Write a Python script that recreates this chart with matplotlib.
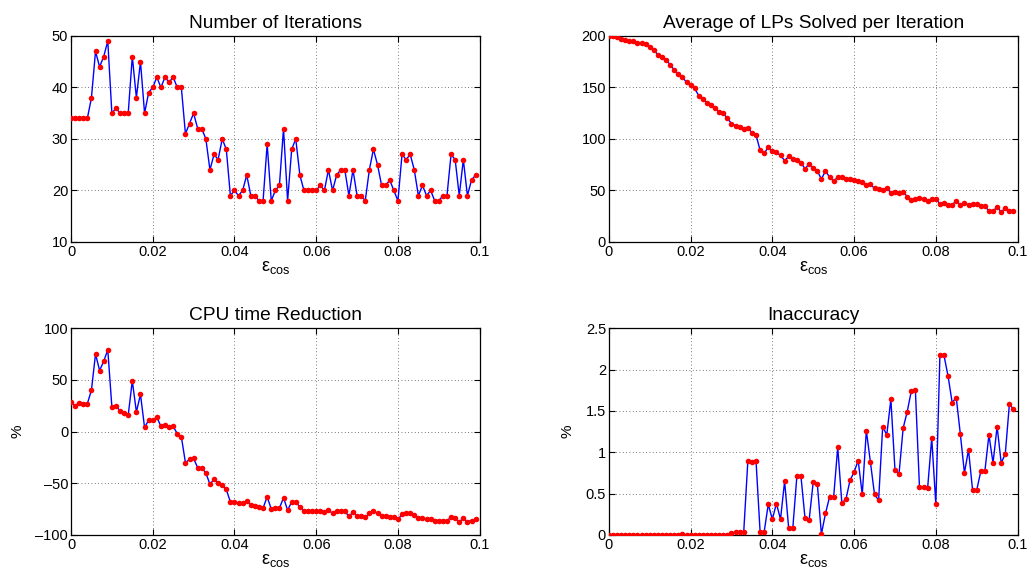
import numpy as np
import matplotlib
matplotlib.use('Agg')
import matplotlib.pyplot as plt

plt.rcParams['font.family'] = ['Liberation Sans', 'DejaVu Sans']
plt.rcParams['mathtext.fontset'] = 'custom'
plt.rcParams['mathtext.rm'] = 'Liberation Sans'
plt.rcParams['mathtext.it'] = 'Liberation Sans'

# epsilon_cos values, step 0.001
eps_cos = np.arange(100) * 0.001

iterations = [34, 34, 34, 34, 34, 38, 47, 44, 46, 49,
              35, 36, 35, 35, 35, 46, 38, 45, 35, 39,
              40, 42, 40, 42, 41, 42, 40, 40, 31, 33,
              35, 32, 32, 30, 24, 27, 26, 30, 28, 19,
              20, 19, 20, 23, 19, 19, 18, 18, 29, 18,
              20, 21, 32, 18, 28, 30, 23, 20, 20, 20,
              20, 21, 20, 24, 20, 23, 24, 24, 19, 24,
              19, 19, 18, 24, 28, 25, 21, 21, 22, 20,
              18, 27, 26, 27, 24, 19, 21, 19, 20, 18,
              18, 19, 19, 27, 26, 19, 26, 19, 22, 23]

avg_lps = [200, 200, 199, 197, 196, 195, 195, 193, 193, 192,
           189, 186, 182, 180, 177, 172, 167, 163, 160, 155,
           152, 149, 142, 139, 135, 133, 130, 126, 125, 120,
           115, 113, 112, 110, 111, 106, 104, 89, 86, 92,
           88, 87, 84, 79, 83, 81, 80, 77, 71, 76,
           72, 69, 61, 69, 63, 59, 63, 63, 61, 61,
           60, 59, 58, 55, 56, 52, 51, 50, 52, 48,
           49, 48, 49, 44, 41, 42, 43, 42, 40, 42,
           42, 37, 38, 36, 36, 40, 36, 38, 36, 37,
           37, 35, 35, 30, 30, 34, 29, 33, 30, 30]

cpu_reduction = [29, 25, 28, 27, 27, 40, 75, 59, 68, 79,
                 24, 25, 20, 18, 16, 49, 19, 36, 4, 11,
                 11, 14, 5, 6, 4, 5, -2, -5, -30, -27,
                 -26, -35, -35, -40, -51, -46, -50, -52, -56, -68,
                 -68, -69, -69, -67, -71, -72, -73, -74, -63, -75,
                 -74, -74, -64, -76, -68, -68, -73, -77, -77, -77,
                 -77, -77, -78, -76, -79, -77, -77, -77, -82, -78,
                 -82, -82, -83, -79, -77, -79, -82, -82, -83, -83,
                 -85, -80, -79, -79, -81, -84, -84, -85, -85, -86,
                 -86, -86, -86, -83, -84, -87, -84, -87, -86, -85]

inaccuracy = [0, 0, 0, 0, 0, 0, 0, 0, 0, 0,
              0, 0, 0, 0, 0, 0, 0, 0, 0.01, 0,
              0, 0, 0, 0, 0, 0, 0, 0, 0, 0,
              0.02, 0.04, 0.04, 0.04, 0.89, 0.88, 0.90, 0.04, 0.04, 0.37,
              0.19, 0.38, 0.19, 0.65, 0.08, 0.08, 0.71, 0.71, 0.20, 0.18,
              0.64, 0.62, 0.01, 0.26, 0.46, 0.46, 1.06, 0.39, 0.43, 0.66,
              0.76, 0.90, 0.49, 1.26, 0.88, 0.49, 0.42, 1.31, 1.21, 1.64,
              0.79, 0.74, 1.29, 1.49, 1.74, 1.75, 0.58, 0.58, 0.57, 1.17,
              0.37, 2.17, 2.17, 1.92, 1.60, 1.66, 1.22, 0.75, 1.03, 0.54,
              0.54, 0.77, 0.77, 1.21, 0.87, 1.31, 0.87, 0.98, 1.58, 1.52]

x_ticks = [0, 0.02, 0.04, 0.06, 0.08, 0.1]
x_ticklabels = ['0', '0.02', '0.04', '0.06', '0.08', '0.1']

panels = [
    ('Number of Iterations', iterations, (10, 50), [10, 20, 30, 40, 50], None),
    ('Average of LPs Solved per Iteration', avg_lps, (0, 200), [0, 50, 100, 150, 200], None),
    ('CPU time Reduction', cpu_reduction, (-100, 100), [-100, -50, 0, 50, 100], '%'),
    ('Inaccuracy', inaccuracy, (0, 2.5), [0, 0.5, 1, 1.5, 2, 2.5], '%'),
]

positions = [
    [0.0688, 0.5835, 0.396, 0.3546],
    [0.590, 0.5835, 0.396, 0.3546],
    [0.0688, 0.0792, 0.396, 0.356],
    [0.590, 0.0792, 0.396, 0.356],
]

fig = plt.figure(figsize=(10.32, 5.81), dpi=100)

for (title, values, ylim, yticks, ylabel), pos in zip(panels, positions):
    ax = fig.add_axes(pos)
    ax.plot(eps_cos, values, '-', color='blue', linewidth=1.0, zorder=2)
    ax.plot(eps_cos, values, 'o', color='red', markersize=4,
            markeredgewidth=0, zorder=3)
    ax.set_xlim(0, 0.1)
    ax.set_ylim(*ylim)
    ax.set_xticks(x_ticks)
    ax.set_xticklabels(x_ticklabels)
    ax.set_yticks(yticks)
    ax.set_yticklabels([('%g' % t).replace('-', '\u2013') for t in yticks])
    ax.grid(True, linestyle=(0, (1, 3)), color='black', linewidth=0.6, alpha=0.7)
    ax.tick_params(direction='in', top=True, right=True, labelsize=10.5,
                   length=4, width=0.8, pad=2)
    for s in ax.spines.values():
        s.set_linewidth(0.9)
    ax.set_title(title, fontsize=13.8, pad=6)
    ax.set_xlabel(r'$\varepsilon_{\mathrm{cos}}$', fontsize=13, labelpad=0)
    if ylabel:
        ax.set_ylabel(ylabel, fontsize=11, labelpad=8)

fig.savefig('out.png', dpi=100)
